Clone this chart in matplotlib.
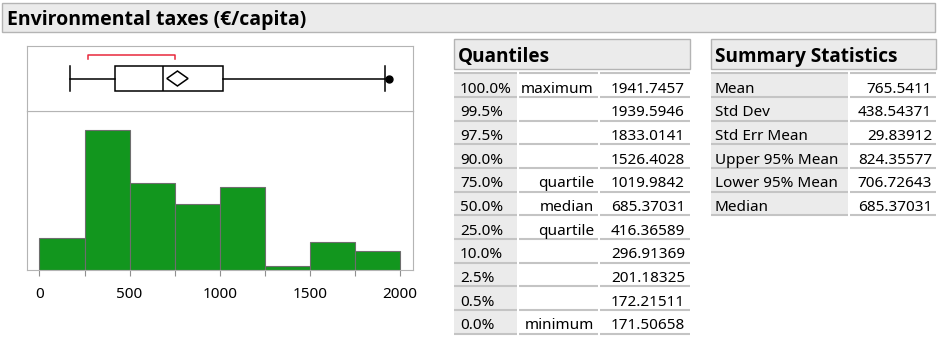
import numpy as np
import matplotlib.pyplot as plt
from matplotlib.patches import Rectangle, Polygon

plt.rcParams['font.family'] = ['Noto Sans', 'DejaVu Sans']

# histogram (counts)
bin_edges = [0, 250, 500, 750, 1000, 1250, 1500, 1750, 2000]
counts = [15, 66, 41, 31, 39, 2, 13, 9]

# outlier box plot
box_q1 = 416.36589
box_med = 685.37031
box_q3 = 1019.9842
whisk_lo = 171.50658
whisk_hi = 1917.0
outliers = [1941.7457]
mean_val = 765.5411
ci_lo = 706.72643
ci_hi = 824.35577
short_half = [269, 750]

# tables
q_pct = ["100.0%", "99.5%", "97.5%", "90.0%", "75.0%", "50.0%", "25.0%",
         "10.0%", "2.5%", "0.5%", "0.0%"]
q_name = ["maximum", "", "", "", "quartile", "median", "quartile", "", "", "", "minimum"]
q_val = ["1941.7457", "1939.5946", "1833.0141", "1526.4028", "1019.9842", "685.37031",
         "416.36589", "296.91369", "201.18325", "172.21511", "171.50658"]
s_name = ["Mean", "Std Dev", "Std Err Mean", "Upper 95% Mean", "Lower 95% Mean", "Median"]
s_val = ["765.5411", "438.54371", "29.83912", "824.35577", "706.72643", "685.37031"]

W, H = 941, 337
fig = plt.figure(figsize=(W / 100, H / 100), dpi=100)
fig.patch.set_facecolor('white')

# overlay in pixel coordinates for title bar and tables
ov = fig.add_axes([0, 0, 1, 1])
ov.set_xlim(0, W)
ov.set_ylim(H, 0)
ov.axis('off')

hdr_bg = '#ebebeb'
hdr_edge = '#b4b4b4'
line_c = '#c4c4c4'
bold_font = ['Open Sans', 'DejaVu Sans']

ov.add_patch(Rectangle((2, 3), 933, 29, facecolor=hdr_bg, edgecolor=hdr_edge, lw=1))
ov.text(7, 24.5, "Environmental taxes (€/capita)", fontsize=14, fontweight='bold',
        family=bold_font, va='baseline', ha='left')

row_top = 73.3
row_h = 23.67


def table(x0, x1, title, cols, col_text, n):
    ov.add_patch(Rectangle((x0, 39), x1 - x0, 30, facecolor=hdr_bg, edgecolor=hdr_edge, lw=1))
    ov.text(x0 + 4, 62, title, fontsize=13.7, fontweight='bold', family=bold_font,
            va='baseline')
    # first column shading
    c0 = cols[0]
    ov.add_patch(Rectangle((c0[0], row_top), c0[1] - c0[0], n * row_h,
                           facecolor=hdr_bg, edgecolor='none'))
    for i in range(n + 1):
        y = row_top + i * row_h
        for (a, b) in cols:
            ov.plot([a, b], [y, y], color=line_c, lw=1.5, solid_capstyle='butt')
    for (texts, xpos, ha) in col_text:
        for i, t in enumerate(texts):
            ov.text(xpos, row_top + 19.4 + i * row_h, t, fontsize=11, ha=ha, va='baseline')


table(454, 690, "Quantiles", [(454, 517), (519, 598), (600, 690)],
      [(q_pct, 460, 'left'), (q_name, 594, 'right'), (q_val, 685, 'right')], len(q_pct))
table(711, 936, "Summary Statistics", [(711, 848), (850, 936)],
      [(s_name, 715, 'left'), (s_val, 932, 'right')], len(s_name))

xlim = (-69.3, 2072.8)
spine_c = '#b4b4b4'

# histogram
axh = fig.add_axes([27 / W, (H - 270) / H, 386 / W, 159 / H])
axh.bar(bin_edges[:-1], counts, width=np.diff(bin_edges), align='edge',
        color='#12961e', edgecolor='#6e6e6e', linewidth=0.8)
axh.set_xlim(*xlim)
axh.set_ylim(0, 75)
axh.set_yticks([])
axh.set_xticks(bin_edges)
axh.set_xticklabels([str(v) if v % 500 == 0 else "" for v in bin_edges])
axh.tick_params(axis='x', length=4, color='#909090', pad=8, labelsize=11)
for s in axh.spines.values():
    s.set_color(spine_c)

# box plot
axb = fig.add_axes([27 / W, (H - 111) / H, 386 / W, 65 / H])
stats = [dict(med=box_med, q1=box_q1, q3=box_q3, whislo=whisk_lo, whishi=whisk_hi,
              fliers=outliers)]
axb.bxp(stats, positions=[0.5], widths=0.38, capwidths=0.38, orientation='horizontal',
        patch_artist=True,
        boxprops=dict(facecolor='white', edgecolor='black', lw=1.1),
        medianprops=dict(color='black', lw=1.1),
        whiskerprops=dict(color='black', lw=1.1),
        capprops=dict(color='black', lw=1.1),
        flierprops=dict(marker='o', markerfacecolor='black', markeredgecolor='black',
                        markersize=5))
axb.add_patch(Polygon([(ci_lo, 0.5), (mean_val, 0.615), (ci_hi, 0.5), (mean_val, 0.385)],
                      closed=True, facecolor='white', edgecolor='black', lw=1.1, zorder=5))
axb.plot([short_half[0], short_half[0], short_half[1], short_half[1]],
         [0.797, 0.857, 0.857, 0.797], color='#e8283c', lw=1.1)
axb.set_xlim(*xlim)
axb.set_ylim(0, 1)
axb.set_xticks([])
axb.set_yticks([])
for s in axb.spines.values():
    s.set_color(spine_c)

fig.savefig('out.png', dpi=100)
